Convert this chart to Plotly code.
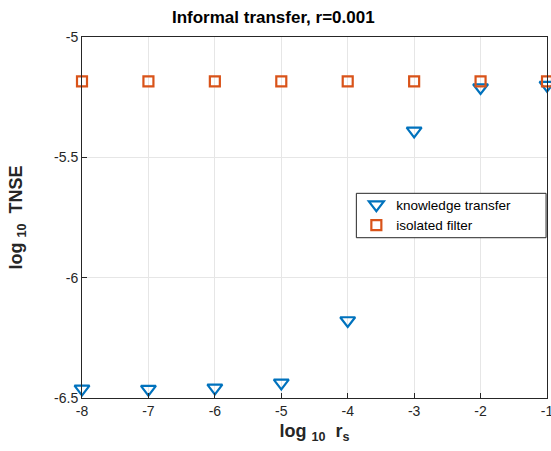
import plotly.graph_objects as go

log_rs = [-8, -7, -6, -5, -4, -3, -2, -1]
knowledge_transfer = [-6.462, -6.463, -6.458, -6.437, -6.178, -5.390, -5.210, -5.200]
isolated_filter = [-5.184, -5.184, -5.184, -5.184, -5.184, -5.184, -5.184, -5.184]
x_ticks = [-8, -7, -6, -5, -4, -3, -2, -1]
y_ticks = [-5, -5.5, -6, -6.5]

FONT = "Liberation Sans, Arial, Helvetica, sans-serif"

fig = go.Figure()
fig.add_trace(go.Scatter(
    x=log_rs, y=knowledge_transfer, mode="markers", name="knowledge transfer",
    marker=dict(symbol="triangle-down-open", size=13, color="#0072BD",
                line=dict(width=2.2, color="#0072BD")),
    cliponaxis=False))
fig.add_trace(go.Scatter(
    x=log_rs, y=isolated_filter, mode="markers", name="isolated filter",
    marker=dict(symbol="square-open", size=10, color="#D95319",
                line=dict(width=2.2, color="#D95319")),
    cliponaxis=False))

axis_common = dict(
    showgrid=True, gridcolor="#e6e6e6", gridwidth=1,
    showline=True, linecolor="#262626", linewidth=1, mirror=True,
    ticks="inside", ticklen=5, tickcolor="#262626",
    zeroline=False, tickfont=dict(family=FONT, size=14, color="#262626"),
    ticklabeloverflow="allow",
)

# legend frame (MATLAB-style box)
fig.add_shape(type="rect", xref="paper", yref="paper",
              x0=0.590, x1=0.998, y0=0.444, y1=0.567,
              line=dict(color="#262626", width=1), fillcolor="white", layer="above")

fig.update_layout(
    width=551, height=451,
    margin=dict(l=82, r=4, t=37, b=53, autoexpand=False),
    paper_bgcolor="white", plot_bgcolor="white",
    font=dict(family=FONT, color="#262626"),
    title=dict(text="<b>Informal transfer, r=0.001</b>", x=0.496, xanchor="center",
               xref="container", y=0.962, yanchor="middle",
               font=dict(family=FONT, size=17, color="#000000")),
    xaxis=dict(range=[-8, -1], tickvals=x_ticks, ticktext=[str(v) for v in x_ticks],
               title=dict(text="<b>log <sub>10</sub>  r<sub>s</sub></b>", standoff=6,
                          font=dict(family=FONT, size=18, color="#262626")),
               **axis_common),
    yaxis=dict(range=[-6.5, -5], tickvals=y_ticks, ticktext=["-5", "-5.5", "-6", "-6.5"],
               title=dict(text="<b>log <sub>10</sub>  TNSE</b>", standoff=26,
                          font=dict(family=FONT, size=18, color="#262626")),
               **axis_common),
    legend=dict(x=0.590, xanchor="left", y=0.578, yanchor="top",
                bgcolor="rgba(0,0,0,0)", borderwidth=0,
                font=dict(family=FONT, size=13.5, color="#000000"),
                tracegroupgap=0, itemwidth=30),
    showlegend=True,
)

fig.write_html("out.html", config={"displayModeBar": False},
               post_script="document.body.style.margin='0';document.body.style.overflow='hidden';")
